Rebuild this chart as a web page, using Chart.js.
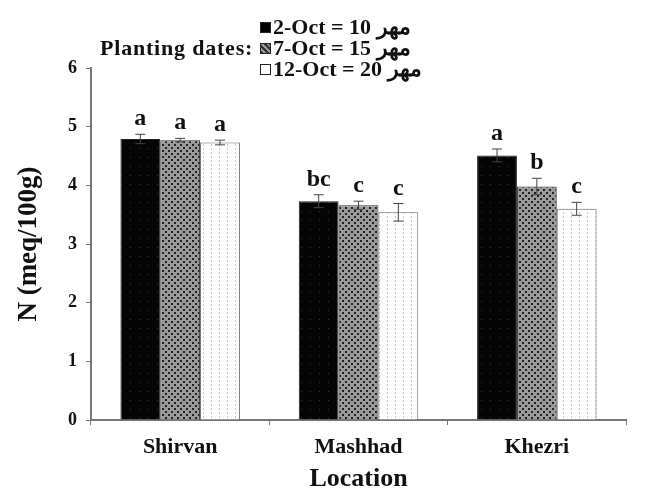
<!DOCTYPE html>
<html>
<head>
<meta charset="utf-8">
<script src="https://cdn.jsdelivr.net/npm/chart.js@4.4.1/dist/chart.umd.min.js"></script>
<style>
  body { margin: 0; background: #fff; }
  #wrap { position: relative; width: 654px; height: 495px; }
  #legend { position: absolute; left: 100px; top: 16px; font: bold 22px 'Liberation Serif', serif; color: #111; }
  #legend .cap { position: absolute; left: 0; top: 21px; white-space: nowrap; height: 21px; line-height: 21px; letter-spacing: 0.8px; }
  #legend .row { position: absolute; left: 160px; white-space: nowrap; height: 21px; line-height: 21px; }
  #legend .sw { display: inline-block; width: 9px; height: 9px; border: 1px solid #222; margin-right: 2px; vertical-align: 1px; }
</style>
</head>
<body>
<div id="wrap">
  <canvas id="chart" width="654" height="495"></canvas>
  <div id="legend"></div>
</div>
<script>
/* ─── Data ─────────────────────────────────────────────── */
const locations  = ['Shirvan', 'Mashhad', 'Khezri'];
const dateLabels = ['2-Oct = 10 مهر', '7-Oct = 15 مهر', '12-Oct = 20 مهر'];
const legendTitle = 'Planting dates:';

const date1 = [4.79, 3.73, 4.51];
const date2 = [4.77, 3.66, 3.98];
const date3 = [4.73, 3.54, 3.60];

const err1 = [0.08, 0.11, 0.11];
const err2 = [0.03, 0.07, 0.14];
const err3 = [0.04, 0.15, 0.11];

const letters1 = ['a', 'bc', 'a'];
const letters2 = ['a', 'c', 'b'];
const letters3 = ['a', 'c', 'c'];

const yTicks = [0, 1, 2, 3, 4, 5, 6];

/* ─── Fill patterns ────────────────────────────────────── */
function mkPattern(w, h, draw) {
  const c = document.createElement('canvas');
  c.width = w; c.height = h;
  const g = c.getContext('2d');
  draw(g);
  return document.getElementById('chart').getContext('2d').createPattern(c, 'repeat');
}

const patBlack = mkPattern(9, 9, g => {
  g.fillStyle = '#050505'; g.fillRect(0, 0, 9, 9);
  g.fillStyle = '#3a3a3a'; g.fillRect(4, 4, 1, 1);
});
const patHatch = mkPattern(6, 6, g => {
  g.fillStyle = '#9a9a9a'; g.fillRect(0, 0, 6, 6);
  g.fillStyle = '#222';
  g.fillRect(0, 0, 2, 2); g.fillRect(3, 3, 2, 2);
});
const patLight = mkPattern(8, 4, g => {
  g.fillStyle = '#fff'; g.fillRect(0, 0, 8, 4);
  g.fillStyle = '#c4c4c4'; g.fillRect(3, 0, 1, 2);
});

const swatches = ['#000', 'repeating-linear-gradient(45deg,#333 0 2px,#999 2px 4px)', '#fff'];

/* ─── Legend (HTML) ────────────────────────────────────── */
const lg = document.getElementById('legend');
lg.innerHTML = `<div class="cap">${legendTitle}</div>` +
  dateLabels.map((t, i) =>
    `<div class="row" style="top:${i * 21}px"><span class="sw" style="background:${swatches[i]}"></span>${t}</div>`
  ).join('');

/* ─── Error bars + letters plugin ──────────────────────── */
const errs = [err1, err2, err3];
const letters = [letters1, letters2, letters3];

const errorBars = {
  id: 'errorBars',
  afterDatasetsDraw(chart) {
    const { ctx, scales: { y } } = chart;
    ctx.save();
    chart.data.datasets.forEach((ds, di) => {
      chart.getDatasetMeta(di).data.forEach((bar, i) => {
        const v = ds.data[i], e = errs[di][i];
        const yt = y.getPixelForValue(v + e), yb = y.getPixelForValue(v - e);
        ctx.strokeStyle = '#444'; ctx.lineWidth = 1;
        ctx.beginPath();
        ctx.moveTo(bar.x, yt); ctx.lineTo(bar.x, yb);
        ctx.moveTo(bar.x - 5, yt); ctx.lineTo(bar.x + 5, yt);
        ctx.moveTo(bar.x - 5, yb); ctx.lineTo(bar.x + 5, yb);
        ctx.stroke();
        ctx.fillStyle = '#111';
        ctx.font = "bold 24px 'Liberation Serif', serif";
        ctx.textAlign = 'center'; ctx.textBaseline = 'alphabetic';
        ctx.fillText(letters[di][i], bar.x, yt - 9);
      });
    });
    ctx.restore();
  },
};

/* ─── Chart ────────────────────────────────────────────── */
const FONT = "'Liberation Serif', serif";

new Chart(document.getElementById('chart'), {
  type: 'bar',
  data: {
    labels: locations,
    datasets: [
      { label: dateLabels[0], data: date1, backgroundColor: patBlack, borderColor: '#222', borderWidth: 1 },
      { label: dateLabels[1], data: date2, backgroundColor: patHatch, borderColor: '#333', borderWidth: 1 },
      { label: dateLabels[2], data: date3, backgroundColor: patLight, borderColor: '#666', borderWidth: 1 },
    ],
  },
  options: {
    responsive: false,
    animation: false,
    devicePixelRatio: 1,
    categoryPercentage: 0.67,
    barPercentage: 1,
    layout: { padding: { top: 68, right: 28, left: 0, bottom: 0 } },
    plugins: { legend: { display: false }, tooltip: { enabled: false } },
    scales: {
      x: {
        grid: { display: true, drawOnChartArea: false, offset: true, tickLength: 5, color: '#777' },
        border: { color: '#777', width: 2 },
        ticks: { color: '#111', font: { family: FONT, size: 22, weight: 'bold' }, padding: 9 },
        title: { display: true, text: 'Location', color: '#111', font: { family: FONT, size: 26, weight: 'bold' }, padding: { top: 0, bottom: 0 } },
        afterFit: s => { s.height = 75; },
      },
      y: {
        min: 0, max: 6,
        afterBuildTicks: s => { s.ticks = yTicks.map(v => ({ value: v })); },
        grid: { display: true, drawOnChartArea: false, tickLength: 5, color: '#777' },
        border: { color: '#777', width: 2 },
        ticks: { color: '#111', font: { family: FONT, size: 18, weight: 'bold' }, padding: 9 },
        title: { display: true, text: 'N (meq/100g)', color: '#111', font: { family: FONT, size: 27, weight: 'bold' }, padding: { top: 13, bottom: 0 } },
        afterFit: s => { s.width = 91; },
      },
    },
  },
  plugins: [errorBars],
});
</script>
</body>
</html>
